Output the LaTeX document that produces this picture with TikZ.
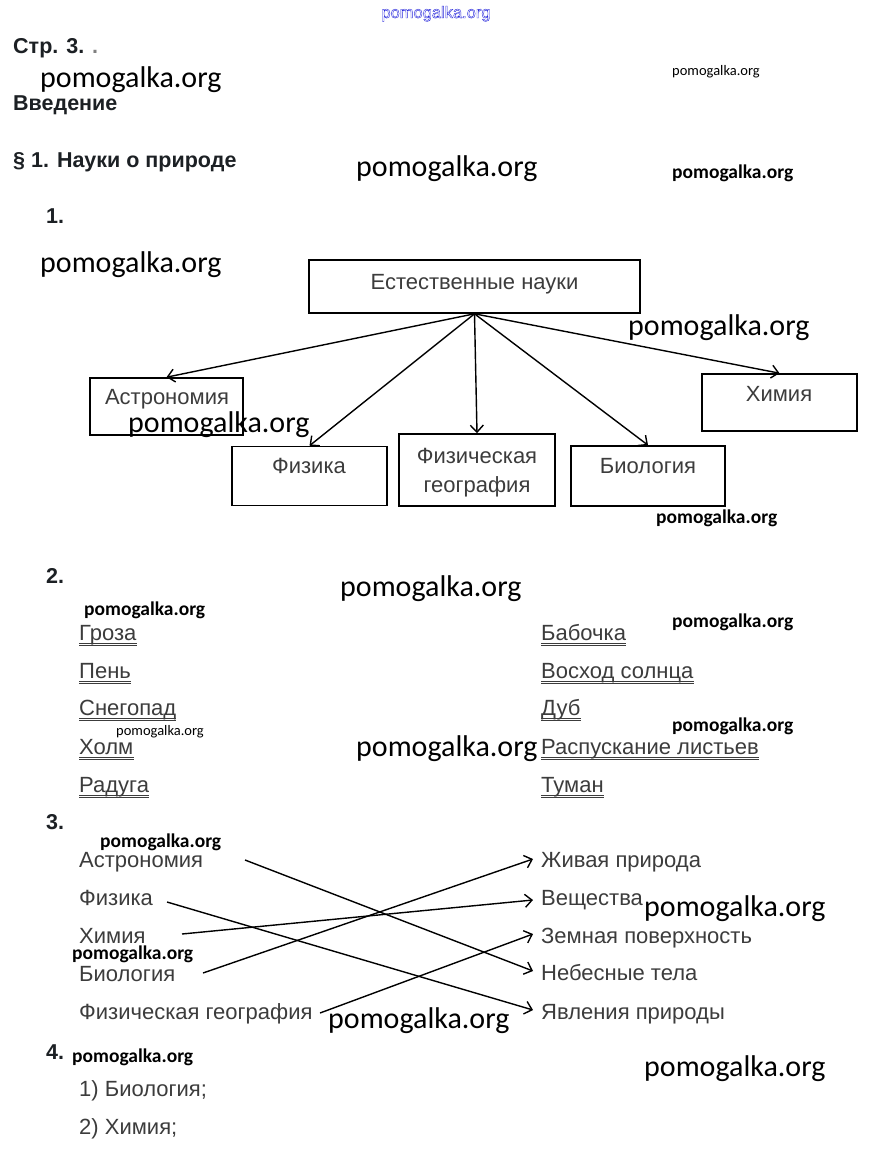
\documentclass[tikz,border=0pt]{standalone}
\usepackage{fontspec}
\setmainfont{Liberation Sans}
\newfontfamily\wmfont{Carlito}
\usetikzlibrary{arrows.meta,calc}
\definecolor{txt}{RGB}{60,60,60}
\definecolor{hdr}{RGB}{28,32,36}
\definecolor{wmblue}{RGB}{40,40,220}
\newcommand\dulnode[4]{%
  \node[body] (#1) at (#2,#3) {#4};
  \draw[uline] ([yshift=-3pt]#1.base west) -- ([yshift=-3pt]#1.base east);
  \draw[uline] ([yshift=-5.5pt]#1.base west) -- ([yshift=-5.5pt]#1.base east);}
\begin{document}
\begin{tikzpicture}[x=1pt,y=-1pt,
  body/.style={inner sep=0pt, anchor=base west, text=txt, font=\fontsize{22}{25}\selectfont},
  ctext/.style={inner sep=0pt, anchor=base, text=txt, font=\fontsize{22}{25}\selectfont},
  hd/.style={inner sep=0pt, anchor=base west, text=hdr, font=\fontsize{21.5}{25}\selectfont\bfseries},
  box/.style={draw, line width=1.6pt, inner sep=0pt},
  arr/.style={line width=1.4pt, -{Straight Barb[length=7pt,width=13pt,line width=1.4pt]}},
  uline/.style={line width=0.8pt, draw=txt},
  wmbig/.style={inner sep=0pt, anchor=base west, font=\wmfont\fontsize{30}{34}\selectfont},
  wmmid/.style={inner sep=0pt, anchor=base west, font=\wmfont\bfseries\fontsize{19.5}{22}\selectfont},
  wmsmall/.style={inner sep=0pt, anchor=base west, font=\wmfont\fontsize{14.5}{17}\selectfont},
]
\fill[white] (0,0) rectangle (870,1156);
\useasboundingbox (0,0) rectangle (870,1156);

% top blue watermark
\node[inner sep=0pt, anchor=base, text=wmblue, font=\fontsize{16.5}{19}\selectfont] (wmtop) at (436,18)
  {\special{pdf:literal 1 Tr}pomogalka.org\special{pdf:literal 0 Tr}};

% headers
\node[hd] (h0) at (13,54) {Стр. 3. {\color{gray}.}};
\node[hd] (h1) at (13,110) {Введение};
\node[hd] (h2) at (13,167) {§ 1. Науки о природе};
\node[hd] (n1) at (46,223) {1.};
\node[hd] (n2) at (46,583) {2.};
\node[hd] (n3) at (46,829) {3.};
\node[hd] (n4) at (46,1059) {4.};

% ---- task 1: diagram
\node[box, minimum width=331pt, minimum height=53pt] (top) at (474.5,286.5) {};
\node[box, minimum width=153pt, minimum height=57pt] (astro) at (166.5,406.5) {};
\node[box, minimum width=155pt, minimum height=57pt] (chem) at (779.5,402.5) {};
\node[box, minimum width=155pt, minimum height=59pt] (phys) at (309.5,476) {};
\node[box, minimum width=156pt, minimum height=72pt] (geo) at (477,470) {};
\node[box, minimum width=154pt, minimum height=60pt] (bio) at (648,476) {};

\node[ctext] (topt) at (474.5,289) {Естественные науки};
\node[ctext] (astrot) at (167,404) {Астрономия};
\node[ctext] (chemt) at (779,401) {Химия};
\node[ctext] (physt) at (309,473) {Физика};
\node[ctext] (geot1) at (477,463) {Физическая};
\node[ctext] (geot2) at (477,492) {география};
\node[ctext] (biot) at (648,473) {Биология};

\draw[arr] (top.south) -- (astro.north);
\draw[arr] (top.south) -- (phys.north);
\draw[arr] (top.south) -- (geo.north);
\draw[arr] (top.south) -- (bio.north);
\draw[arr] (top.south) -- (chem.north);

% ---- task 2
\dulnode{a1}{79}{640}{Гроза}
\dulnode{a2}{79}{678}{Пень}
\dulnode{a3}{79}{715}{Снегопад}
\dulnode{a4}{79}{754}{Холм}
\dulnode{a5}{79}{792}{Радуга}
\dulnode{b1}{541}{640}{Бабочка}
\dulnode{b2}{541}{678}{Восход солнца}
\dulnode{b3}{541}{715}{Дуб}
\dulnode{b4}{541}{754}{Распускание листьев}
\dulnode{b5}{541}{792}{Туман}

% ---- task 3
\node[body] (lA) at (79,867) {Астрономия};
\node[body] (lF) at (79,905) {Физика};
\node[body] (lH) at (79,943) {Химия};
\node[body] (lB) at (79,981) {Биология};
\node[body] (lG) at (79,1019) {Физическая география};
\node[body] (rZ) at (541,867) {Живая природа};
\node[body] (rV) at (541,905) {Вещества};
\node[body] (rE) at (541,943) {Земная поверхность};
\node[body] (rN) at (541,980) {Небесные тела};
\node[body] (rY) at (541,1019) {Явления природы};

\coordinate (sA) at (245,860);
\coordinate (sF) at (167,902);
\coordinate (sH) at (182,934);
\coordinate (sB) at (203,973);
\coordinate (sG) at (320,1013);
\draw[arr] (sA) -- ($(rN.base west)+(-8,-9)$);
\draw[arr] (sF) -- ($(rY.base west)+(-8,-9)$);
\draw[arr] (sH) -- ($(rV.base west)+(-8,-5)$);
\draw[arr] (sB) -- ($(rZ.base west)+(-8,-8)$);
\draw[arr] (sG) -- ($(rE.base west)+(-8,-9)$);

% ---- task 4
\node[body] (q1) at (79,1096) {1) Биология;};
\node[body] (q2) at (79,1134) {2) Химия;};

% ---- watermarks
\node[wmbig] (w1) at (40,87) {pomogalka.org};
\node[wmbig] (w2) at (356,176) {pomogalka.org};
\node[wmbig] (w3) at (40,272) {pomogalka.org};
\node[wmbig] (w4) at (628,335) {pomogalka.org};
\node[wmbig] (w5) at (128,432) {pomogalka.org};
\node[wmbig] (w6) at (340,596) {pomogalka.org};
\node[wmbig] (w7) at (356,756) {pomogalka.org};
\node[wmbig] (w8) at (644,916) {pomogalka.org};
\node[wmbig] (w9) at (328,1028) {pomogalka.org};
\node[wmbig] (w10) at (644,1076) {pomogalka.org};
\node[wmmid] (m1) at (672,178) {pomogalka.org};
\node[wmmid] (m2) at (656,523) {pomogalka.org};
\node[wmmid] (m3) at (84,615) {pomogalka.org};
\node[wmmid] (m4) at (672,627) {pomogalka.org};
\node[wmmid] (m5) at (672,731) {pomogalka.org};
\node[wmmid] (m6) at (100,847) {pomogalka.org};
\node[wmmid] (m7) at (72,959) {pomogalka.org};
\node[wmmid] (m8) at (72,1062) {pomogalka.org};
\node[wmsmall] (s1) at (672,75) {pomogalka.org};
\node[wmsmall] (s2) at (116,735) {pomogalka.org};
\end{tikzpicture}
\end{document}
